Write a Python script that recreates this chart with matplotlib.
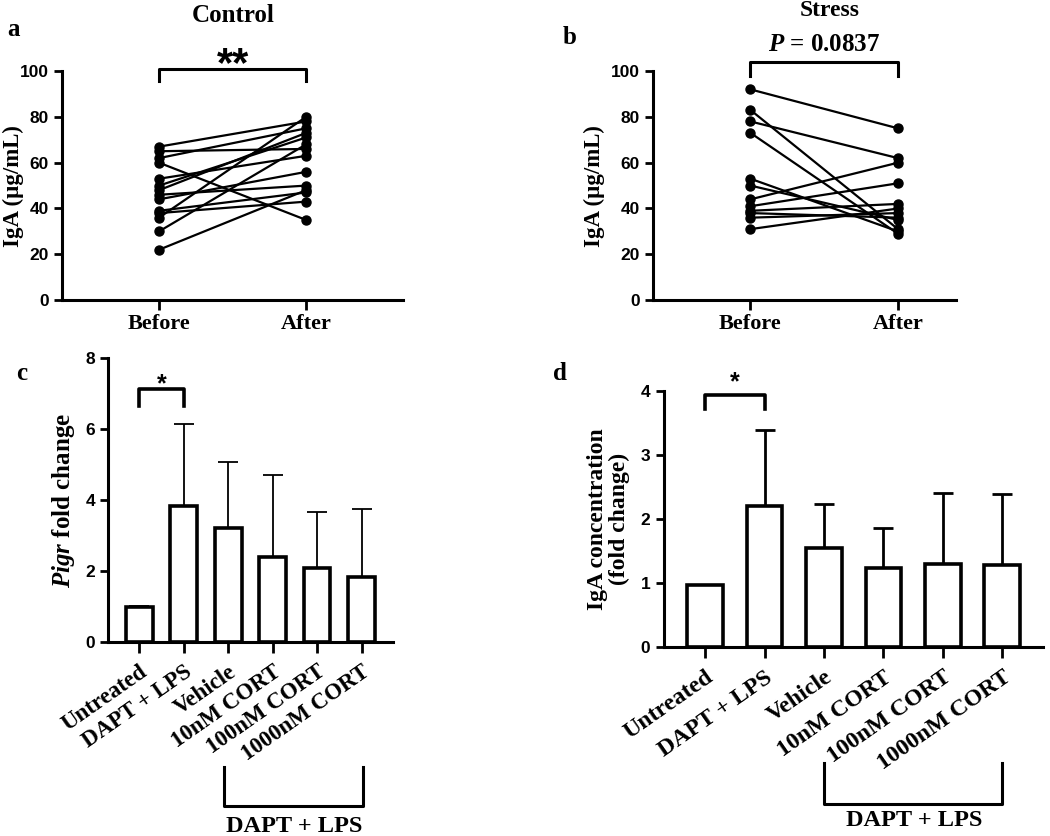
import matplotlib
matplotlib.use("Agg")
import matplotlib.pyplot as plt
import numpy as np

plt.rcParams['mathtext.fontset'] = 'custom'
plt.rcParams['mathtext.it'] = 'Liberation Serif:italic:bold'
plt.rcParams['mathtext.rm'] = 'Liberation Serif:bold'
plt.rcParams['mathtext.bf'] = 'Liberation Serif:bold'

SERIF = 'Liberation Serif'
SANS = 'Liberation Sans'

# ---- Data ----
timepoints = ["Before", "After"]
control_before = [67, 65, 62, 60, 53, 50, 48, 46, 44, 39, 38, 36, 30, 22]
control_after = [78, 66, 75, 35, 63, 71, 73, 50, 56, 47, 43, 80, 68, 48]
stress_before = [92, 83, 78, 73, 53, 50, 44, 41, 39, 38, 36, 31]
stress_after = [75, 31, 62, 29, 30, 35, 60, 51, 42, 36, 38, 40]

groups = ["Untreated", "DAPT + LPS", "Vehicle", "10nM CORT", "100nM CORT", "1000nM CORT"]
pigr_mean = [0.97, 3.82, 3.22, 2.38, 2.07, 1.82]
pigr_upper = [1.00, 6.15, 5.08, 4.72, 3.67, 3.76]
iga_mean = [0.98, 2.21, 1.56, 1.24, 1.30, 1.28]
iga_upper = [0.98, 3.40, 2.24, 1.87, 2.42, 2.39]

W, H = 1050, 836
fig = plt.figure(figsize=(W / 100, H / 100), dpi=100)

def fx(px):
    return px / W

def fy(py):
    return 1 - py / H

def style_axes(ax, ticklen=6):
    for s in ['top', 'right']:
        ax.spines[s].set_visible(False)
    for s in ['left', 'bottom']:
        ax.spines[s].set_linewidth(2.2)
    ax.tick_params(axis='both', width=2.0, length=ticklen, direction='out')
    for lab in ax.get_yticklabels():
        lab.set_fontfamily(SANS)
        lab.set_fontweight('bold')
        lab.set_fontsize(12.5)

def paired(ax, before, after, right):
    x = np.arange(len(timepoints))
    for b, a in zip(before, after):
        ax.plot(x, [b, a], color='black', lw=1.6, marker='o', ms=6.5,
                mec='black', mfc='black', clip_on=False, zorder=3)
    ax.set_xlim(-0.66, right)
    ax.set_ylim(0, 100)
    ax.set_yticks([0, 20, 40, 60, 80, 100])
    ax.set_xticks(x)
    ax.set_xticklabels(timepoints, fontfamily=SERIF, fontweight='bold', fontsize=16)
    ax.set_ylabel("IgA (µg/mL)", fontfamily=SERIF, fontweight='bold', fontsize=16.5)
    style_axes(ax)
    ax.tick_params(axis='x', length=7, pad=3)

# Panel a
axa = fig.add_axes([0.059, 0.641, 0.325, 0.274])
paired(axa, control_before, control_after, 1.66)
axa.yaxis.set_label_coords(-0.112, 0.5)
axa.plot([0, 0, 1, 1], [95.5, 100.7, 100.7, 95.5], color='black', lw=2.2, clip_on=False)
axa.text(0.5, 97.8, "**", ha='center', va='baseline', fontsize=30, fontweight='bold', family=SANS)
fig.text(fx(233), fy(16), "Control", ha='center', va='center',
         fontfamily=SERIF, fontweight='bold', fontsize=18)
fig.text(fx(13), fy(30), "a", fontfamily=SERIF, fontweight='bold', fontsize=18,
         ha='center', va='center')

# Panel b
axb = fig.add_axes([0.622, 0.641, 0.288, 0.274])
paired(axb, stress_before, stress_after, 1.39)
axb.plot([0, 0, 1, 1], [98, 104, 104, 98], color='black', lw=2.2, clip_on=False)
axb.text(0.5, 106.5, r"$P$ = 0.0837", ha='center', va='bottom', fontsize=18,
         fontfamily=SERIF, fontweight='bold')
fig.text(fx(830), fy(11), "Stress", ha='center', va='center',
         fontfamily=SERIF, fontweight='bold', fontsize=17)
fig.text(fx(570), fy(38), "b", fontfamily=SERIF, fontweight='bold', fontsize=18,
         ha='center', va='center')

def bars(ax, means, upper, ylim, yticks, errlw, right, lblsize):
    x = np.arange(len(groups))
    ax.bar(x, means, width=0.6, color='white', edgecolor='black', lw=2.6, zorder=2)
    err = np.array(upper) - np.array(means)
    ax.errorbar(x, means, yerr=[np.zeros_like(err), err], fmt='none', ecolor='black',
                elinewidth=errlw, capsize=7, capthick=errlw, zorder=1)
    ax.set_xlim(-0.7, right)
    ax.set_ylim(*ylim)
    ax.set_yticks(yticks)
    ax.set_xticks(x)
    ax.set_xticklabels(groups, rotation=35, ha='right', va='top', rotation_mode='anchor',
                       fontfamily=SERIF, fontweight='bold', fontsize=lblsize)
    style_axes(ax)
    ax.tick_params(axis='x', length=8, pad=6)

# Panel c
axc = fig.add_axes([0.103, 0.2324, 0.271, 0.339])
bars(axc, pigr_mean, pigr_upper, (0, 8), [0, 2, 4, 6, 8], 1.3, 5.7, 16.5)
axc.set_ylabel(r"$Pigr$ fold change", fontfamily=SERIF, fontweight='bold', fontsize=18, labelpad=6)
axc.plot([0, 0, 1, 1], [6.65, 7.12, 7.12, 6.65], color='black', lw=2.6, clip_on=False)
axc.text(0.5, 7.07, "*", ha='center', va='baseline', fontsize=18, fontweight='bold', family=SANS)
fig.text(fx(22), fy(373), "c", fontfamily=SERIF, fontweight='bold', fontsize=18,
         ha='center', va='center')
fig.add_artist(plt.Line2D([fx(224), fx(224), fx(363), fx(363)],
                          [fy(767), fy(806), fy(806), fy(767)],
                          color='black', lw=2.2))
fig.text(fx(294), fy(826), "DAPT + LPS", ha='center', va='center',
         fontfamily=SERIF, fontweight='bold', fontsize=17.5)

# Panel d
axd = fig.add_axes([0.632, 0.2257, 0.361, 0.306])
bars(axd, iga_mean, iga_upper, (0, 4), [0, 1, 2, 3, 4], 2.0, 5.68, 17.2)
axd.set_ylabel("IgA concentration\n(fold change)", fontfamily=SERIF, fontweight='bold',
               fontsize=17, labelpad=8, linespacing=1.0)
axd.plot([0, 0, 1, 1], [3.73, 3.94, 3.94, 3.73], color='black', lw=2.6, clip_on=False)
axd.text(0.5, 4.03, "*", ha='center', va='baseline', fontsize=18, fontweight='bold', family=SANS)
fig.text(fx(560), fy(373), "d", fontfamily=SERIF, fontweight='bold', fontsize=18,
         ha='center', va='center')
fig.add_artist(plt.Line2D([fx(824), fx(824), fx(1002), fx(1002)],
                          [fy(763), fy(804), fy(804), fy(763)],
                          color='black', lw=2.2))
fig.text(fx(914), fy(821), "DAPT + LPS", ha='center', va='center',
         fontfamily=SERIF, fontweight='bold', fontsize=17.5)

fig.savefig("out.png", dpi=100, facecolor='white')
